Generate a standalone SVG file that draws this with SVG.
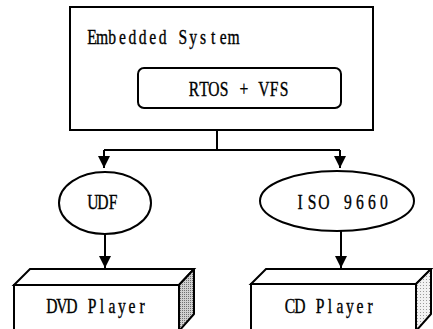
<svg xmlns="http://www.w3.org/2000/svg" width="433" height="329" viewBox="0 0 433 329">
  <style>
    .box { fill: #fff; stroke: #000; stroke-width: 2; }
    .line { fill: none; stroke: #000; stroke-width: 2; }
    .lbl { font-family: "Liberation Serif", "Times New Roman", serif; font-size: 20px; fill: #000; stroke: #000; stroke-width: 0.35; text-anchor: middle; }
    .side1 { fill: url(#dotsDark); stroke: #000; stroke-width: 2; stroke-linejoin: round; }
    .side2 { fill: url(#dotsLight); stroke: #000; stroke-width: 2; stroke-linejoin: round; }
  </style>
  <defs>
    <marker id="arrow" markerUnits="userSpaceOnUse" markerWidth="13" markerHeight="12" refX="12" refY="6" orient="auto">
      <path d="M0,0 L12,6 L0,12 Z" fill="#000"/>
    </marker>
    <pattern id="dotsDark" width="2" height="2" patternUnits="userSpaceOnUse">
      <rect width="2" height="2" fill="#d0d0d0"/>
      <rect width="1" height="1" fill="#707070"/>
    </pattern>
    <pattern id="dotsLight" width="3" height="3" patternUnits="userSpaceOnUse">
      <rect width="3" height="3" fill="#f2f2f2"/>
      <rect width="1" height="1" fill="#9a9a9a"/>
    </pattern>
  </defs>

  <!-- labels are set on a fixed character grid, glyphs condensed to 78% -->
  <g id="embedded-system">
    <rect class="box" x="70" y="7" width="303" height="123"/>
    <text class="lbl" transform="translate(87,44) scale(0.78,1)" x="6.47 19.42 32.37 45.32 58.27 71.22 84.17 97.12 110.07 123.02 135.96 148.91 161.86 174.81 187.76" y="0">Embedded System</text>
  </g>

  <g id="rtos-vfs">
    <rect class="box" x="138" y="68" width="203" height="40" rx="6" ry="6"/>
    <text class="lbl" transform="translate(189,96) scale(0.78,1)" x="6.41 19.23 32.05 44.87 57.69 70.51 83.33 96.15 108.97 121.79" y="0">RTOS + VFS</text>
  </g>

  <g id="udf">
    <ellipse class="box" cx="105" cy="203" rx="46" ry="31"/>
    <text class="lbl" transform="translate(88,209) scale(0.78,1)" x="6.41 19.23 32.05" y="0">UDF</text>
  </g>

  <g id="iso9660">
    <ellipse class="box" cx="337" cy="201" rx="77" ry="30"/>
    <text class="lbl" transform="translate(294,209) scale(0.78,1)" x="7.69 23.08 38.46 53.85 69.23 84.62 100 115.38" y="0">ISO 9660</text>
  </g>

  <g id="dvd-player">
    <polygon class="box" points="14,285 30,269 194,269 179,285"/>
    <polygon class="side1" points="179,285 194,269 194,314 179,331"/>
    <path class="box" d="M14,332 L14,285 L179,285 L179,332"/>
    <text class="lbl" transform="translate(47,313) scale(0.78,1)" x="6.41 19.23 32.05 44.87 57.69 70.51 83.33 96.15 108.97 121.79" y="0">DVD Player</text>
  </g>

  <g id="cd-player">
    <polygon class="box" points="251,284 266,269 431,269 416,284"/>
    <polygon class="side2" points="416,284 431,269 431,314 416,331"/>
    <path class="box" d="M251,332 L251,284 L416,284 L416,332"/>
    <text class="lbl" transform="translate(285,313) scale(0.78,1)" x="6.41 19.23 32.05 44.87 57.69 70.51 83.33 96.15 108.97" y="0">CD Player</text>
  </g>

  <g id="connectors">
    <path class="line" d="M217,130 L217,150 M104,150 L340,150"/>
    <path class="line" d="M104,150 L104,168" marker-end="url(#arrow)"/>
    <path class="line" d="M340,150 L340,168" marker-end="url(#arrow)"/>
    <path class="line" d="M105,234 L105,268" marker-end="url(#arrow)"/>
    <path class="line" d="M341,231 L341,268" marker-end="url(#arrow)"/>
  </g>
</svg>
